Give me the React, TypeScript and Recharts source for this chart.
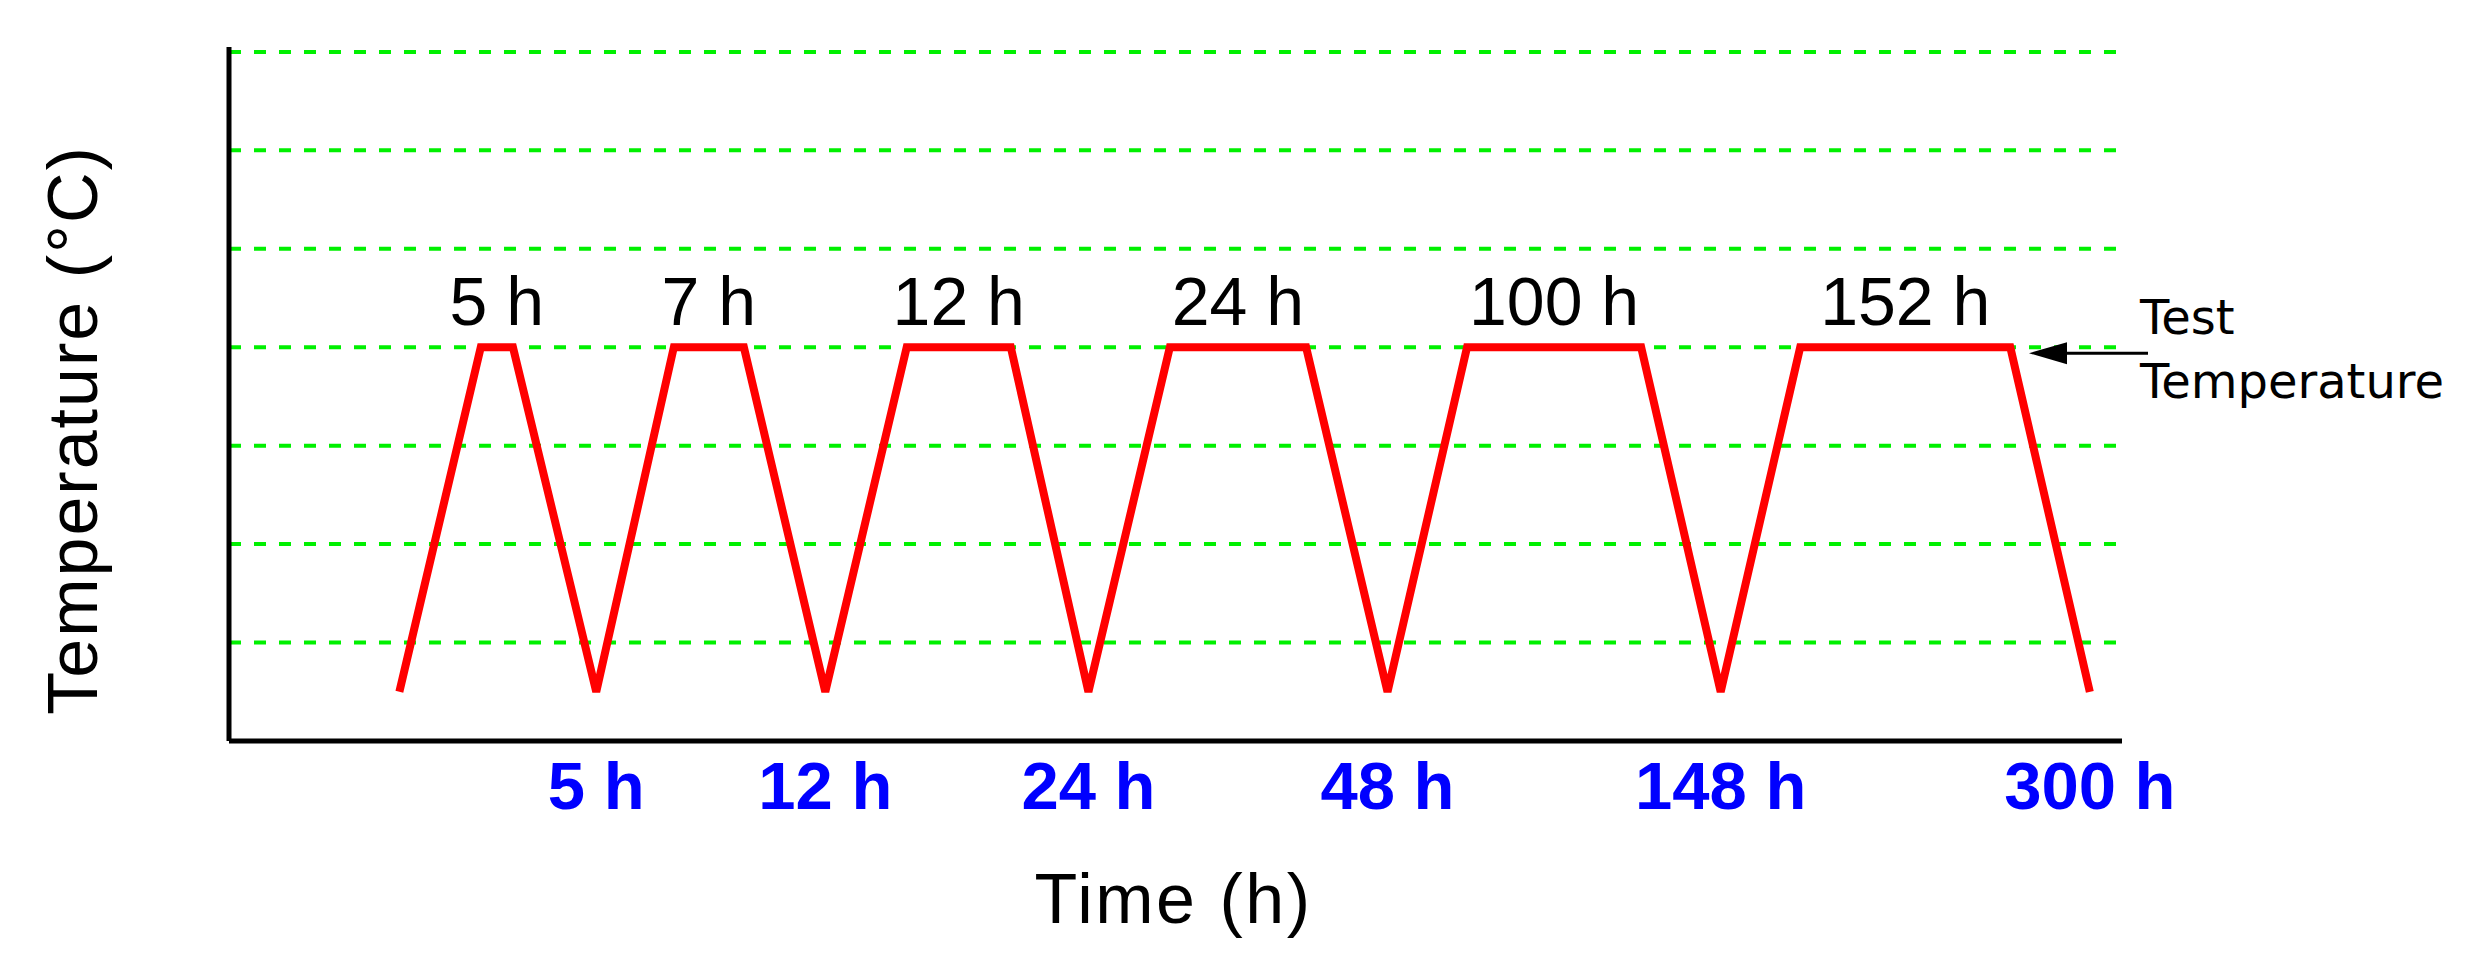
import React from "react"
import {
  LineChart,
  Line,
  XAxis,
  YAxis,
  ReferenceDot,
  ReferenceLine,
} from "recharts"

// schematic time position (0-100 along the axis) and temperature level of each corner
const PROFILE_X = [9.0, 13.3, 15.0, 19.4, 23.5, 27.2, 31.5, 35.8, 41.3, 45.4, 49.7, 56.9, 61.2, 65.4, 74.6, 78.8, 83.0, 94.1, 98.3]
const PROFILE_T = [0.5, 4, 4, 0.5, 4, 4, 0.5, 4, 4, 0.5, 4, 4, 0.5, 4, 4, 0.5, 4, 4, 0.5]
const SOAK_LABELS = ["5 h", "7 h", "12 h", "24 h", "100 h", "152 h"]
const ELAPSED_LABELS = ["5 h", "12 h", "24 h", "48 h", "148 h", "300 h"]
const GRID_LEVELS = [1, 2, 3, 4, 5, 6, 7]
const TEST_TEMP = 4

const profile = PROFILE_X.map((x, i) => ({ x, temp: PROFILE_T[i] }))
const soakCenters = SOAK_LABELS.map((_, i) => (PROFILE_X[1 + 3 * i] + PROFILE_X[2 + 3 * i]) / 2)
const cycleEnds = ELAPSED_LABELS.map((_, i) => PROFILE_X[3 + 3 * i])

const ARIAL = "'Liberation Sans', Arial, sans-serif"
const VERDANA = "'DejaVu Sans', Verdana, sans-serif"

function ElapsedTick(props: any) {
  const { x, y, index } = props
  return (
    <text x={x} y={y + 68} textAnchor="middle" fontFamily={ARIAL} fontWeight="bold" fontSize={67} fill="#0000ff">
      {ELAPSED_LABELS[index]}
    </text>
  )
}

function SoakLabel(props: any) {
  const { viewBox, text } = props
  if (!viewBox) return null
  const cx = viewBox.x + (viewBox.width || 0) / 2
  const cy = viewBox.y + (viewBox.height || 0) / 2
  return (
    <text x={cx} y={cy - 22} textAnchor="middle" fontFamily={ARIAL} fontSize={68} fill="#000">
      {text}
    </text>
  )
}

function TestTempLabel(props: any) {
  const { viewBox } = props
  if (!viewBox) return null
  const right = viewBox.x + viewBox.width
  const y = viewBox.y + 6
  return (
    <g>
      <line x1={right - 80} y1={y} x2={right + 26} y2={y} stroke="#000" strokeWidth={3} />
      <polygon
        points={`${right - 93},${y} ${right - 55},${y - 11} ${right - 55},${y + 11}`}
        fill="#000"
      />
      <text x={right + 18} y={viewBox.y - 13} fontFamily={VERDANA} fontSize={48} fill="#000">
        Test
      </text>
      <text x={right + 18} y={viewBox.y + 51} fontFamily={VERDANA} fontSize={48} fill="#000">
        Temperature
      </text>
    </g>
  )
}

function YTitle() {
  const cx = 97
  const cy = 430
  return (
    <text
      x={cx}
      y={cy}
      transform={`rotate(-90 ${cx} ${cy})`}
      textAnchor="middle"
      fontFamily={ARIAL}
      fontSize={70}
      letterSpacing={2}
      fill="#000"
    >
      Temperature (°C)
    </text>
  )
}

function XTitle(props: any) {
  const { viewBox } = props
  const cx = viewBox.x + viewBox.width / 2 - 2
  return (
    <text x={cx} y={923} textAnchor="middle" fontFamily={ARIAL} fontSize={70} letterSpacing={2.5} fill="#000">
      Time (h)
    </text>
  )
}

export default function App() {
  return (
    <div style={{ position: "absolute", left: 0, top: 0, width: 2476, height: 970, background: "#fff" }}>
      <LineChart
        width={2476}
        height={970}
        data={profile}
        margin={{ top: 47, right: 354, bottom: 129, left: 149 }}
      >
        <XAxis
          dataKey="x"
          type="number"
          domain={[0, 100]}
          ticks={cycleEnds}
          tick={<ElapsedTick />}
          tickLine={false}
          tickSize={0}
          tickMargin={0}
          height={100}
          axisLine={{ stroke: "#000", strokeWidth: 5 }}
          label={<XTitle />}
        />
        <YAxis
          type="number"
          domain={[0, 7.05]}
          ticks={GRID_LEVELS}
          tick={false}
          tickLine={false}
          width={80}
          axisLine={{ stroke: "#000", strokeWidth: 5 }}
          label={<YTitle />}
        />
        {GRID_LEVELS.map((level) => (
          <ReferenceLine
            key={level}
            y={level}
            stroke="#00f000"
            strokeWidth={4}
            strokeDasharray="12 13"
          />
        ))}
        <ReferenceLine y={TEST_TEMP} stroke="none" label={<TestTempLabel />} />
        <Line
          type="linear"
          dataKey="temp"
          stroke="#ff0000"
          strokeWidth={8}
          dot={false}
          isAnimationActive={false}
        />
        {soakCenters.map((cx, i) => (
          <ReferenceDot
            key={SOAK_LABELS[i]}
            x={cx}
            y={TEST_TEMP}
            r={0}
            fill="none"
            stroke="none"
            label={<SoakLabel text={SOAK_LABELS[i]} />}
          />
        ))}
      </LineChart>
    </div>
  )
}
